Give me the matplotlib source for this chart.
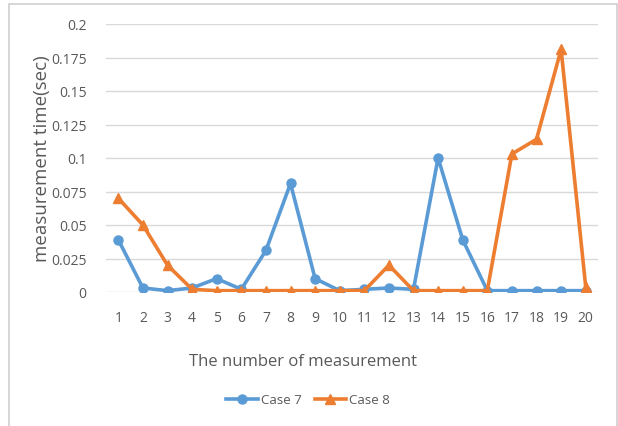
import matplotlib
matplotlib.use("Agg")
import matplotlib.pyplot as plt
from matplotlib.patches import Rectangle

measurements = list(range(1, 21))
case7 = [0.039, 0.003, 0.001, 0.003, 0.010, 0.002, 0.031, 0.081, 0.010, 0.001,
         0.002, 0.003, 0.002, 0.100, 0.039, 0.001, 0.001, 0.001, 0.001, 0.001]
case8 = [0.070, 0.050, 0.020, 0.002, 0.001, 0.001, 0.001, 0.001, 0.001, 0.001,
         0.001, 0.020, 0.001, 0.001, 0.001, 0.001, 0.103, 0.114, 0.181, 0.004]
yticks = [0, 0.025, 0.05, 0.075, 0.1, 0.125, 0.15, 0.175, 0.2]
ytick_labels = ["0", "0.025", "0.05", "0.075", "0.1", "0.125", "0.15", "0.175", "0.2"]

plt.rcParams["font.family"] = ["Open Sans", "DejaVu Sans"]

text_color = "#595959"
blue = "#5B9BD5"
orange = "#ED7D31"

fig = plt.figure(figsize=(6.18, 4.27), dpi=100)
fig.patch.set_facecolor("white")

# chart frame (bottom edge runs off the canvas)
fig.patches.append(Rectangle((8.5 / 618, -0.05), (617 - 8.5) / 618, 1 - 4.5 / 427 + 0.05,
                             transform=fig.transFigure, fill=False,
                             edgecolor="#D0D0D0", linewidth=1.2))

ax = fig.add_axes([106 / 618, 1 - 293 / 427, (598 - 106) / 618, (293 - 25) / 427])
ax.set_xlim(0.5, 20.5)
ax.set_ylim(0, 0.2)
for s in ax.spines.values():
    s.set_visible(False)
ax.set_yticks(yticks)
ax.set_yticklabels(ytick_labels)
ax.set_xticks(measurements)
ax.set_xticklabels([str(m) for m in measurements])
ax.tick_params(axis="both", length=0, labelsize=10, colors=text_color)
ax.tick_params(axis="y", pad=14)
ax.tick_params(axis="x", pad=13)
ax.grid(axis="y", color="#D9D9D9", linewidth=1.0)
ax.set_axisbelow(True)

ax.plot(measurements, case7, color=blue, linewidth=2.6, marker="o",
        markersize=6.5, label="Case 7", zorder=3)
ax.plot(measurements, case8, color=orange, linewidth=2.6, marker="^",
        markersize=7, label="Case 8", zorder=4)

ax.set_ylabel("measurement time(sec)", fontsize=13.5, color=text_color)
ax.yaxis.set_label_coords(-0.112, 0.5)
fig.text(303 / 618, 1 - 362 / 427, "The number of measurement", fontsize=12,
         color=text_color, ha="center", va="center")

leg = fig.legend(loc="center", bbox_to_anchor=(308 / 618, 1 - 401 / 427), ncol=2,
                 frameon=False, fontsize=9.5, labelcolor=text_color,
                 handlelength=2.4, handletextpad=0.2, columnspacing=1.0)

fig.savefig("out.png", dpi=100, facecolor="white")
